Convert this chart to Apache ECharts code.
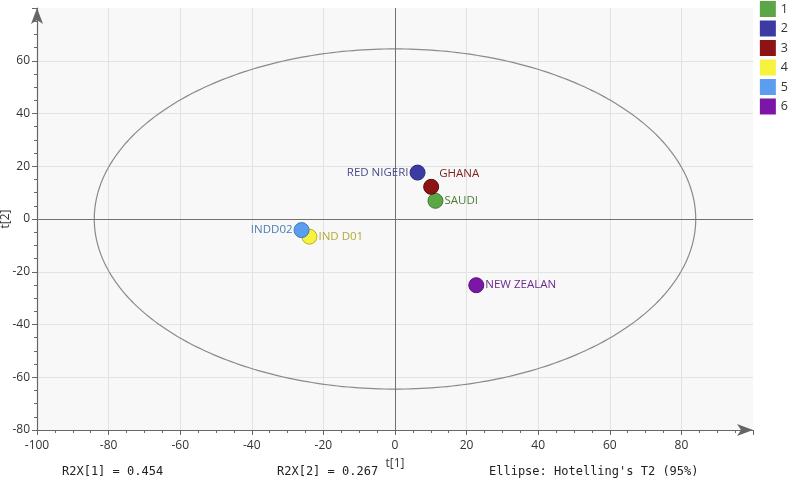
<!DOCTYPE html>
<html>
<head>
<meta charset="utf-8">
<script src="https://cdn.jsdelivr.net/npm/echarts@6/dist/echarts.min.js"></script>
<style>html,body{margin:0;padding:0;background:#fff}#c{width:789px;height:482px}</style>
</head>
<body>
<div id="c"></div>
<script>
// ---- data ----
const classIds    = ['1', '2', '3', '4', '5', '6'];
const sampleNames = ['SAUDI', 'RED NIGERI', 'GHANA', 'IND D01', 'INDD02', 'NEW ZEALAN'];
const t1Values    = [11.3, 6.3, 10.1, -23.9, -26.1, 22.7];
const t2Values    = [6.9, 17.6, 12.2, -6.7, -4.2, -25.1];
const xTicks      = [-100, -80, -60, -40, -20, 0, 20, 40, 60, 80];
const yTicks      = [-80, -60, -40, -20, 0, 20, 40, 60];
const ellipseCenter = [0, 0];
const ellipseRadii  = [84, 64.5];
const footerTexts = ['R2X[1] = 0.454', 'R2X[2] = 0.267', "Ellipse: Hotelling's T2 (95%)"];

// ---- styles ----
const fillColors  = ['#5ba747', '#3b3ba3', '#8c1414', '#f6f23e', '#5c9df0', '#7b16a8'];
const labelColors = ['#4d7d34', '#4a4a8e', '#7a2424', '#b3aa35', '#4d7cb3', '#6b2a8c'];
const borderColors= ['#3f7a2e', '#28287a', '#5e0c0c', '#b8b020', '#3c78c0', '#55107a'];
const labelPos = [
  {position: 'right', offset: [-4, 0]},
  {position: 'left', offset: [4, 0]},
  {position: 'right', offset: [-5, -13]},
  {position: 'right', offset: [-4, 0]},
  {position: 'left', offset: [4, 0]},
  {position: 'right', offset: [-4, 0]}
];

const chart = echarts.init(document.getElementById('c'));
const font = 'Open Sans, Noto Sans, sans-serif';

const series = classIds.map((id, i) => ({
  name: id,
  type: 'scatter',
  symbolSize: 15,
  itemStyle: {color: fillColors[i], borderColor: borderColors[i], borderWidth: 1, opacity: 1},
  label: {
    show: true,
    formatter: sampleNames[i],
    position: labelPos[i].position,
    offset: labelPos[i].offset,
    color: labelColors[i],
    fontSize: 11.5,
    fontFamily: font
  },
  emphasis: {disabled: true},
  z: 5,
  data: [[t1Values[i], t2Values[i]]]
}));

series.push({
  name: 'ellipse',
  type: 'custom',
  silent: true,
  z: 3,
  data: [[ellipseCenter[0], ellipseCenter[1]]],
  renderItem: function (params, api) {
    const c = api.coord([ellipseCenter[0], ellipseCenter[1]]);
    const px = api.coord([ellipseCenter[0] + ellipseRadii[0], ellipseCenter[1]]);
    const py = api.coord([ellipseCenter[0], ellipseCenter[1] + ellipseRadii[1]]);
    const rx = Math.abs(px[0] - c[0]);
    const ry = Math.abs(c[1] - py[1]);
    const pts = [];
    for (let k = 0; k <= 360; k++) {
      const a = k * Math.PI / 180;
      pts.push([c[0] + rx * Math.cos(a), c[1] + ry * Math.sin(a)]);
    }
    return {type: 'polyline', shape: {points: pts}, style: {stroke: '#8a8a8a', lineWidth: 1.2, fill: null}};
  }
});

series.push({
  name: 'zero',
  type: 'line',
  data: [],
  silent: true,
  markLine: {
    silent: true,
    symbol: 'none',
    label: {show: false},
    lineStyle: {color: '#707070', width: 1, type: 'solid'},
    data: [{xAxis: 0}, {yAxis: 0}]
  }
});

const axisCommon = {
  axisLine: {show: true, onZero: false, symbol: ['none', 'arrow'], symbolSize: [9, 16], lineStyle: {color: '#666', width: 1.2}},
  axisTick: {show: true, length: 5, lineStyle: {color: '#666'}},
  minorTick: {show: true, splitNumber: 4, length: 3, lineStyle: {color: '#666'}},
  splitLine: {show: true, showMaxLine: false, showMinLine: false, lineStyle: {color: '#e2e2e2', width: 1}},
  axisLabel: {color: '#333', fontSize: 12, fontFamily: font, showMaxLabel: false}
};

chart.setOption({
  animation: false,
  backgroundColor: '#fff',
  grid: {left: 37, right: 36, top: 8, bottom: 52, show: true, backgroundColor: '#f8f8f8', borderWidth: 0,
         outerBoundsMode: 'none', containLabel: false},
  legend: {
    orient: 'vertical',
    right: 1, top: 1, padding: 0,
    itemWidth: 16, itemHeight: 16, itemGap: 3.5,
    icon: 'rect',
    itemStyle: {borderWidth: 0},
    data: classIds,
    textStyle: {color: '#333', fontSize: 12.5, fontFamily: font, lineHeight: 16},
    selectedMode: false
  },
  xAxis: Object.assign({}, axisCommon, {
    type: 'value', min: -100, max: 100, interval: 20,
    name: 't[1]', nameLocation: 'middle', nameGap: 28, nameMoveOverlap: false,
    nameTextStyle: {color: '#333', fontSize: 12, fontFamily: font},
    axisLabel: Object.assign({}, axisCommon.axisLabel, {margin: 10,
      formatter: v => xTicks.indexOf(v) >= 0 ? String(v) : ''})
  }),
  yAxis: Object.assign({}, axisCommon, {
    type: 'value', min: -80, max: 80, interval: 20,
    name: 't[2]', nameLocation: 'middle', nameGap: 25, nameMoveOverlap: false,
    nameTextStyle: {color: '#333', fontSize: 12, fontFamily: font},
    axisLabel: Object.assign({}, axisCommon.axisLabel, {margin: 7,
      formatter: v => yTicks.indexOf(v) >= 0 ? String(v) : ''})
  }),
  graphic: [
    {type: 'text', left: 62, top: 466, style: {text: footerTexts[0], fill: '#222', font: '12px "DejaVu Sans Mono", monospace'}},
    {type: 'text', left: 277, top: 466, style: {text: footerTexts[1], fill: '#222', font: '12px "DejaVu Sans Mono", monospace'}},
    {type: 'text', left: 489, top: 466, style: {text: footerTexts[2], fill: '#222', font: '12px "DejaVu Sans Mono", monospace'}}
  ],
  series: series
});
</script>
</body>
</html>
